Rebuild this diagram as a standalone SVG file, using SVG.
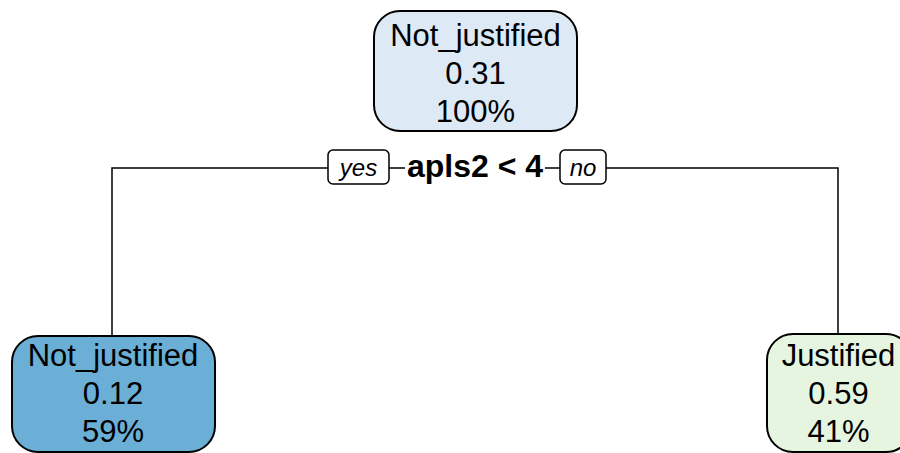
<svg xmlns="http://www.w3.org/2000/svg" width="900" height="453" viewBox="0 0 900 453">
<style>
.box{stroke:#000;stroke-width:2}
.t{font-family:"Liberation Sans",Arial,sans-serif;font-size:31px;fill:#000;text-anchor:middle}
.lbl{fill:#fff;stroke:#000;stroke-width:1.5}
.li{font-family:"Liberation Sans",Arial,sans-serif;font-size:24px;font-style:italic;fill:#000;text-anchor:middle}
.sp{font-family:"Liberation Sans",Arial,sans-serif;font-size:32px;font-weight:bold;fill:#000;text-anchor:middle}
.ln{fill:none;stroke:#000;stroke-width:1.5}
</style>
<rect width="900" height="453" fill="#fff"/>
<g id="connectors">
<path class="ln" d="M112,335 V168 H838 V333"/>
<rect class="lbl" x="328" y="150" width="61" height="34" rx="5"/>
<text class="li" x="358.5" y="176">yes</text>
<rect class="lbl" x="560" y="150" width="46" height="34" rx="5"/>
<text class="li" x="583" y="176">no</text>
<rect x="405" y="152" width="140" height="32" fill="#fff"/>
<text class="sp" x="475" y="177">apls2 &lt; 4</text>
</g>
<g id="root">
<rect class="box" x="374" y="11" width="203" height="120" rx="26" fill="#dde9f5"/>
<text class="t" x="475.5" y="46">Not_justified</text>
<text class="t" x="475.5" y="84">0.31</text>
<text class="t" x="475.5" y="122">100%</text>
</g>
<g id="left">
<rect class="box" x="12" y="336" width="203" height="116" rx="26" fill="#6baed6"/>
<text class="t" x="113" y="366">Not_justified</text>
<text class="t" x="113" y="404">0.12</text>
<text class="t" x="113" y="442">59%</text>
</g>
<g id="right">
<rect class="box" x="767" y="334" width="145" height="118" rx="26" fill="#e5f5e0"/>
<text class="t" x="838.5" y="366">Justified</text>
<text class="t" x="838.5" y="404">0.59</text>
<text class="t" x="838.5" y="442">41%</text>
</g>
</svg>
